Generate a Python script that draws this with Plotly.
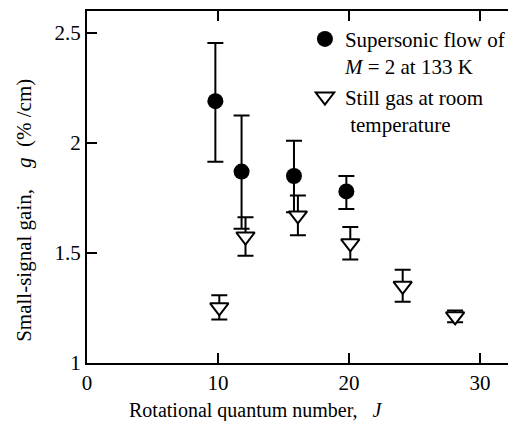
import plotly.graph_objects as go

# Supersonic flow of M = 2 at 133 K
J_flow = [9.8, 11.8, 15.8, 19.8]
g_flow = [2.19, 1.87, 1.85, 1.78]
err_flow_plus = [0.265, 0.255, 0.16, 0.07]
err_flow_minus = [0.275, 0.26, 0.165, 0.08]

# Still gas at room temperature
J_still = [10.1, 12.1, 16.1, 20.1, 24.1, 28.1]
g_still = [1.253, 1.575, 1.671, 1.544, 1.351, 1.212]
err_still = [0.055, 0.087, 0.09, 0.074, 0.073, 0.027]

x_ticks = [0, 10, 20, 30]
y_ticks = [1, 1.5, 2, 2.5]
y_ticktext = ["1", "1.5", "2", "2.5"]

FONT = "Liberation Serif, Times New Roman, Times, serif"

fig = go.Figure()
fig.add_trace(go.Scatter(
    x=J_flow, y=g_flow, mode="markers",
    name="Supersonic flow of<br><i>M</i> = 2 at 133 K",
    marker=dict(symbol="circle", size=16, color="black"),
    error_y=dict(type="data", symmetric=False, array=err_flow_plus,
                 arrayminus=err_flow_minus, color="black", thickness=2, width=8),
))
fig.add_trace(go.Scatter(
    x=J_still, y=g_still, mode="markers",
    name="Still gas at room<br>\u00a0temperature",
    marker=dict(symbol="triangle-down", size=16, color="white",
                line=dict(color="black", width=2)),
    error_y=dict(type="data", array=err_still, color="black", thickness=2, width=8),
))

axis_common = dict(showgrid=False, zeroline=False, ticks="inside", ticklen=10,
                   tickwidth=2, tickcolor="black", linecolor="black", linewidth=2,
                   tickfont=dict(family=FONT, size=21, color="black"))

# page body has an 8px default margin; figure size compensates for it
fig.update_layout(
    width=508, height=413,
    margin=dict(l=79, r=0, t=3, b=58),
    paper_bgcolor="white", plot_bgcolor="white",
    font=dict(family=FONT, size=20, color="black"),
    xaxis=dict(range=[0, 32.75], tickvals=x_ticks, showline=True, mirror="ticks",
               **axis_common),
    yaxis=dict(range=[1, 2.6], tickvals=y_ticks, ticktext=y_ticktext, showline=True,
               **axis_common),
    yaxis2=dict(range=[1, 2.6], tickvals=y_ticks, overlaying="y", side="right",
                showticklabels=False, showline=False, showgrid=False, zeroline=False,
                ticks="inside", ticklen=10, tickwidth=2, tickcolor="black"),
    showlegend=True,
    legend=dict(x=0.508, y=0.978, xanchor="left", yanchor="top", valign="top",
                bgcolor="rgba(0,0,0,0)", font=dict(family=FONT, size=21, color="black"),
                tracegroupgap=0, itemsizing="trace"),
    annotations=[
        dict(text="Rotational quantum number,\u00a0\u00a0 <i>J</i>", xref="paper", yref="paper",
             x=0.393, y=-0.135, xanchor="center", yanchor="middle", showarrow=False,
             font=dict(family=FONT, size=20, color="black")),
        dict(text="Small-signal gain,\u00a0\u00a0\u00a0 <i>g</i>\u00a0 (% /cm)", xref="paper", yref="paper",
             x=-0.147, y=0.435, xanchor="center", yanchor="middle", showarrow=False,
             textangle=-90, font=dict(family=FONT, size=21, color="black")),
    ],
)

fig.write_html("out.html")
